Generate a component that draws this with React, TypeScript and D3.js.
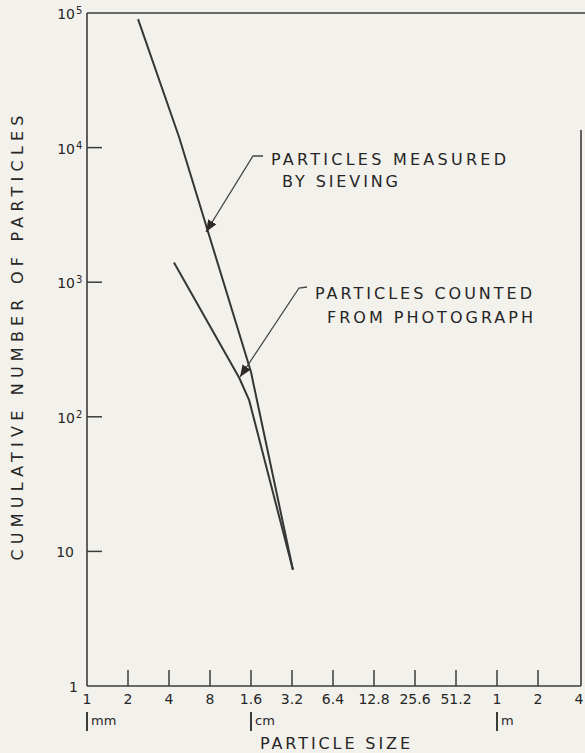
import React, { useRef, useEffect } from 'react';
import * as d3 from 'd3';

// particle size in mm, cumulative count
const sievingSize = [2.37, 4.74, 16, 16.6, 32.5];
const sievingCount = [90000, 12000, 215, 180, 7.3];

const photoSize = [4.35, 13.1, 15.5, 32.5];
const photoCount = [1400, 195, 133, 7.3];

const xTickValues = [1, 2, 4, 8, 16, 32, 64, 128, 256, 512, 1024, 2048, 4096];
const xTickLabels = ['1', '2', '4', '8', '1.6', '3.2', '6.4', '12.8', '25.6', '51.2', '1', '2', '4'];
const unitValues = [1, 16, 1024];
const unitLabels = ['mm', 'cm', 'm'];

const yTickValues = [1, 10, 100, 1000, 10000, 100000];
const yTickBase = ['1', '10', '10', '10', '10', '10'];
const yTickSup = ['', '', '2', '3', '4', '5'];

const W = 585;
const H = 753;
const ink = '#3b3b3b';
const textInk = '#262626';
const font = '"DejaVu Sans", "Liberation Sans", sans-serif';

const App: React.FC = () => {
  const svgRef = useRef<SVGSVGElement>(null);

  useEffect(() => {
    if (!svgRef.current) return;
    const svg = d3.select(svgRef.current);
    svg.selectAll('*').remove();

    const x = d3.scaleLog().base(2).domain([1, 4096]).range([87, 579]);
    const y = d3.scaleLog().domain([1, 100000]).range([686, 13]);

    svg.append('rect').attr('width', W).attr('height', H).attr('fill', '#f3f1eb');

    const defs = svg.append('defs');
    defs.append('marker')
      .attr('id', 'arrow')
      .attr('viewBox', '0 0 10 10')
      .attr('refX', 10)
      .attr('refY', 5)
      .attr('markerWidth', 12)
      .attr('markerHeight', 12)
      .attr('markerUnits', 'userSpaceOnUse')
      .attr('orient', 'auto')
      .append('path')
      .attr('d', 'M0,1 L10,5 L0,9 Z')
      .attr('fill', '#2e2a2a');

    // frame
    const frame = svg.append('g').attr('stroke', ink).attr('stroke-width', 1.6).attr('fill', 'none');
    frame.append('line').attr('x1', x(1)).attr('x2', x(1)).attr('y1', y(100000)).attr('y2', y(1));
    frame.append('line').attr('x1', x(1)).attr('x2', W).attr('y1', y(100000)).attr('y2', y(100000));
    frame.append('line').attr('x1', x(1)).attr('x2', x(4096) + 2).attr('y1', y(1)).attr('y2', y(1));
    frame.append('line').attr('x1', x(4096) + 2).attr('x2', x(4096) + 2).attr('y1', 130).attr('y2', y(1));

    // x ticks
    const xt = svg.append('g');
    xTickValues.forEach((v, i) => {
      if (i > 0 && i < xTickValues.length - 1) {
        xt.append('line')
          .attr('x1', x(v)).attr('x2', x(v))
          .attr('y1', y(1)).attr('y2', y(1) - 16)
          .attr('stroke', ink).attr('stroke-width', 1.5);
      }
      xt.append('text')
        .attr('x', x(v)).attr('y', 704)
        .attr('text-anchor', 'middle')
        .attr('font-family', font).attr('font-size', 14)
        .attr('fill', textInk)
        .text(xTickLabels[i]);
    });

    unitValues.forEach((v, i) => {
      xt.append('line')
        .attr('x1', x(v)).attr('x2', x(v))
        .attr('y1', 712).attr('y2', 731)
        .attr('stroke', textInk).attr('stroke-width', 1.8);
      xt.append('text')
        .attr('x', x(v) + 4).attr('y', 725)
        .attr('font-family', font).attr('font-size', 13)
        .attr('fill', textInk)
        .text(unitLabels[i]);
    });

    // y ticks
    const yt = svg.append('g');
    yTickValues.forEach((v, i) => {
      if (i > 0 && i < yTickValues.length - 1) {
        yt.append('line')
          .attr('x1', x(1)).attr('x2', x(1) + 15)
          .attr('y1', y(v)).attr('y2', y(v))
          .attr('stroke', ink).attr('stroke-width', 1.5);
      }
      yt.append('text')
        .attr('x', yTickSup[i] ? 75 : (i === 0 ? 78 : 74))
        .attr('y', y(v) + 6)
        .attr('text-anchor', 'end')
        .attr('font-family', font).attr('font-size', 14)
        .attr('fill', textInk)
        .text(yTickBase[i]);
      if (yTickSup[i]) {
        yt.append('text')
          .attr('x', 76).attr('y', y(v) + 1)
          .attr('font-family', font).attr('font-size', 10)
          .attr('fill', textInk)
          .text(yTickSup[i]);
      }
    });

    // data lines
    const line = d3.line<[number, number]>()
      .x(d => x(d[0]))
      .y(d => y(d[1]));

    svg.append('path')
      .datum(sievingSize.map((s, i) => [s, sievingCount[i]] as [number, number]))
      .attr('d', line)
      .attr('fill', 'none')
      .attr('stroke', '#363636')
      .attr('stroke-width', 2);

    svg.append('path')
      .datum(photoSize.map((s, i) => [s, photoCount[i]] as [number, number]))
      .attr('d', line)
      .attr('fill', 'none')
      .attr('stroke', '#363636')
      .attr('stroke-width', 2);

    // leaders
    svg.append('path')
      .attr('d', 'M263,156 L253,156 L206,232')
      .attr('fill', 'none')
      .attr('stroke', '#444')
      .attr('stroke-width', 1.3)
      .attr('marker-end', 'url(#arrow)');

    svg.append('path')
      .attr('d', 'M307,287 L299,288 L240,377')
      .attr('fill', 'none')
      .attr('stroke', '#444')
      .attr('stroke-width', 1.3)
      .attr('marker-end', 'url(#arrow)');

    const label = (tx: number, ty: number, len: number, s: string, size = 16) =>
      svg.append('text')
        .attr('x', tx).attr('y', ty)
        .attr('font-family', font).attr('font-size', size)
        .attr('fill', textInk)
        .attr('textLength', len)
        .attr('lengthAdjust', 'spacing')
        .text(s);

    label(271, 165, 235, 'PARTICLES MEASURED');
    label(282, 187, 116, 'BY SIEVING');
    label(315, 299, 217, 'PARTICLES COUNTED');
    label(327, 323, 206, 'FROM PHOTOGRAPH');
    label(260, 749, 150, 'PARTICLE SIZE');

    svg.append('text')
      .attr('transform', 'translate(23,338) rotate(-90)')
      .attr('text-anchor', 'middle')
      .attr('font-family', font).attr('font-size', 16)
      .attr('fill', textInk)
      .attr('textLength', 445)
      .attr('lengthAdjust', 'spacing')
      .text('CUMULATIVE NUMBER OF PARTICLES');
  }, []);

  return (
    <svg
      ref={svgRef}
      width={W}
      height={H}
      style={{ position: 'absolute', left: 0, top: 0, display: 'block' }}
    />
  );
};

export default App;
